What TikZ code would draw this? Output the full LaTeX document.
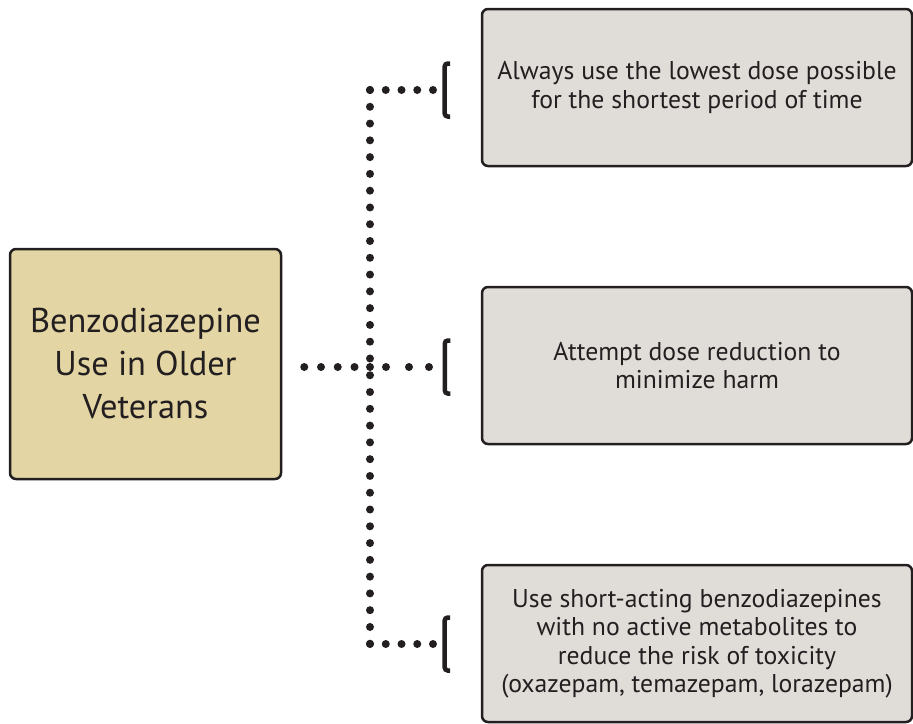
\documentclass[tikz,border=0pt]{standalone}
\usepackage{fontspec}
\setmainfont{PT Sans}
\begin{document}
\begin{tikzpicture}[x=1pt,y=-1pt,
  ink/.style={color={rgb,255:red,35;green,31;blue,32}},
  box/.style={draw={rgb,255:red,35;green,31;blue,32}, line width=2.5pt,
    rounded corners=6pt, align=center, inner sep=0pt,
    text={rgb,255:red,35;green,31;blue,32}},
  topic/.style={box, fill={rgb,255:red,227;green,214;blue,164},
    minimum width=271pt, minimum height=230pt,
    font=\fontsize{34.4}{43}\selectfont},
  advice/.style={box, fill={rgb,255:red,224;green,221;blue,217},
    minimum width=430pt, minimum height=157pt,
    font=\fontsize{25.7}{28.5}\selectfont},
  dotline/.style={ink, line width=8pt, line cap=round, dash pattern=on 0pt off #1},
  dotline/.default=15.75pt,
  bracket/.style={ink, line width=4.5pt, rounded corners=3pt}
]
\useasboundingbox (0,0) rectangle (913,723);

% main topic and the three recommendations
\node[topic] (main) at (145.5,364) {Benzodiazepine\\Use in Older\\Veterans};
\node[advice] (r1) at (697,87.5) {Always use the lowest dose possible\\for the shortest period of time};
\node[advice] (r2) at (697,365.5) {Attempt dose reduction to\\minimize harm};
\node[advice] (r3) at (697,643.5) {Use short-acting benzodiazepines\\with no active metabolites to\\reduce the risk of toxicity\\(oxazepam, temazepam, lorazepam)};

% points of the dotted tree
\coordinate (top) at (370,90);
\coordinate (hub) at (370,367);
\coordinate (bot) at (370,644);
\coordinate (start) at ([xshift=22pt]main.east |- hub);
\coordinate (e1) at (433.2,90);
\coordinate (e2) at (429.5,367);
\coordinate (e3) at (433.2,644);

% dotted spine and branches
\draw[dotline=16.78pt] (top) -- (bot);
\draw[dotline] (top) -- (e1);
\draw[dotline] (bot) -- (e3);
\draw[dotline=16.75pt] (start) -- (hub);
\draw[ink, line width=8pt, line cap=round,
  dash pattern=on 0pt off 16pt on 0pt off 23pt on 0pt off 20pt] (hub) -- (e2);

% opening brackets in front of each recommendation
\foreach \e/\dx in {e1/0pt,e2/3.8pt,e3/0pt}{
  \draw[bracket] ([shift={(17pt+\dx,-26.5pt)}]\e) -- ([shift={(11.5pt+\dx,-26.5pt)}]\e)
    -- ([shift={(11.5pt+\dx,26.5pt)}]\e) -- ([shift={(17pt+\dx,26.5pt)}]\e);
}
\end{tikzpicture}
\end{document}
